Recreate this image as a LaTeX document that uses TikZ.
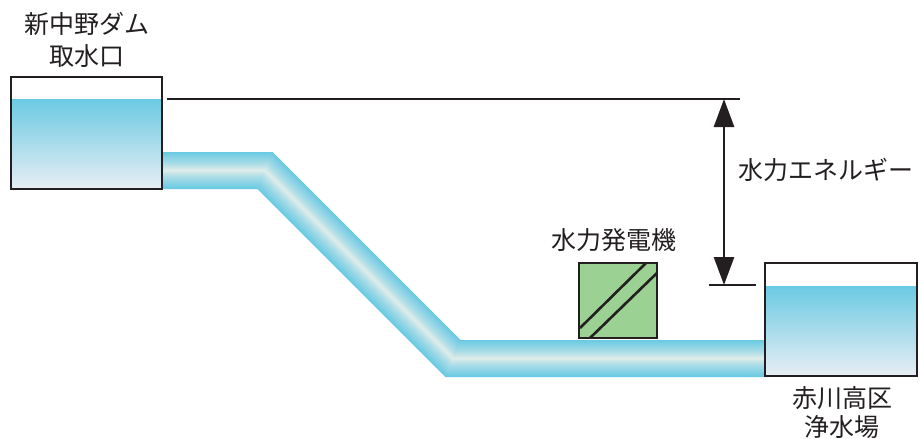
\documentclass[tikz,border=0pt]{standalone}
\usepackage{fontspec}
\newfontfamily\jpfont{Noto Sans CJK JP}
\usetikzlibrary{arrows.meta}
\definecolor{water}{HTML}{6BCAE3}
\definecolor{waterpale}{HTML}{E8EEF4}
\definecolor{pipecore}{HTML}{EEF1EC}
\definecolor{gen}{HTML}{9BD193}
\definecolor{ink}{HTML}{231F20}
\begin{document}
\begin{tikzpicture}[x=1pt,y=-1pt,
  tank/.style={draw=ink,line width=2.8pt},
  lbl/.style={font=\jpfont\fontsize{25}{32}\selectfont,text=ink,inner sep=0pt,align=center},
  rule/.style={draw=ink,line width=2.8pt},
  bigtip/.tip={Triangle[width=20pt,length=28pt]}]
\useasboundingbox (0,0) rectangle (919,439);

% penstock: banded strokes from the cyan rim to the pale core
\foreach \i in {0,...,17} {
  \pgfmathsetmacro\w{37*(18-\i)/18}
  \pgfmathtruncatemacro\p{100*((18-\i)/18)^0.7}
  \draw[line width=\w pt,draw=water!\p!pipecore,line join=miter]
    (158,170.5) -- (265,170.5) -- (453,358.5) -- (768,358.5);
}

% intake tank
\fill[white] (11,77) rectangle (162,189);
\shade[top color=water,bottom color=waterpale] (11,99) rectangle (162,189);
\draw[tank] (11,77) rectangle (162,189);

% purification plant tank
\fill[white] (765,263) rectangle (917,376);
\shade[top color=water,bottom color=waterpale] (765,286) rectangle (917,376);
\draw[tank] (765,263) rectangle (917,376);

% generator
\fill[gen] (579,263) rectangle (657,338);
\draw[ink,line width=2.6pt] (580,328) -- (646,263);
\draw[ink,line width=2.6pt] (590,338) -- (657,273);
\draw[ink,line width=2.6pt] (579,263) rectangle (657,338);

% head between the two water levels
\coordinate (hiL) at (167,99);
\coordinate (hiR) at (740,99);
\coordinate (loL) at (709,285);
\coordinate (loR) at (756,285);
\coordinate (arrTop) at (724,99);
\coordinate (arrBot) at (724,285);
\draw[rule] (hiL) -- (hiR);
\draw[rule] (loL) -- (loR);
\draw[rule,bigtip-bigtip] (arrTop) -- (arrBot);

% labels
\node[lbl] (dam) at (87,40) {新中野ダム\\取水口};
\node[lbl,anchor=west] (energy) at (738,170) {水力エネルギー};
\node[lbl] (generator) at (614,240) {水力発電機};
\node[lbl,font=\jpfont\fontsize{25}{29}\selectfont] (plant) at (842,413) {赤川高区\\浄水場};
\end{tikzpicture}
\end{document}
